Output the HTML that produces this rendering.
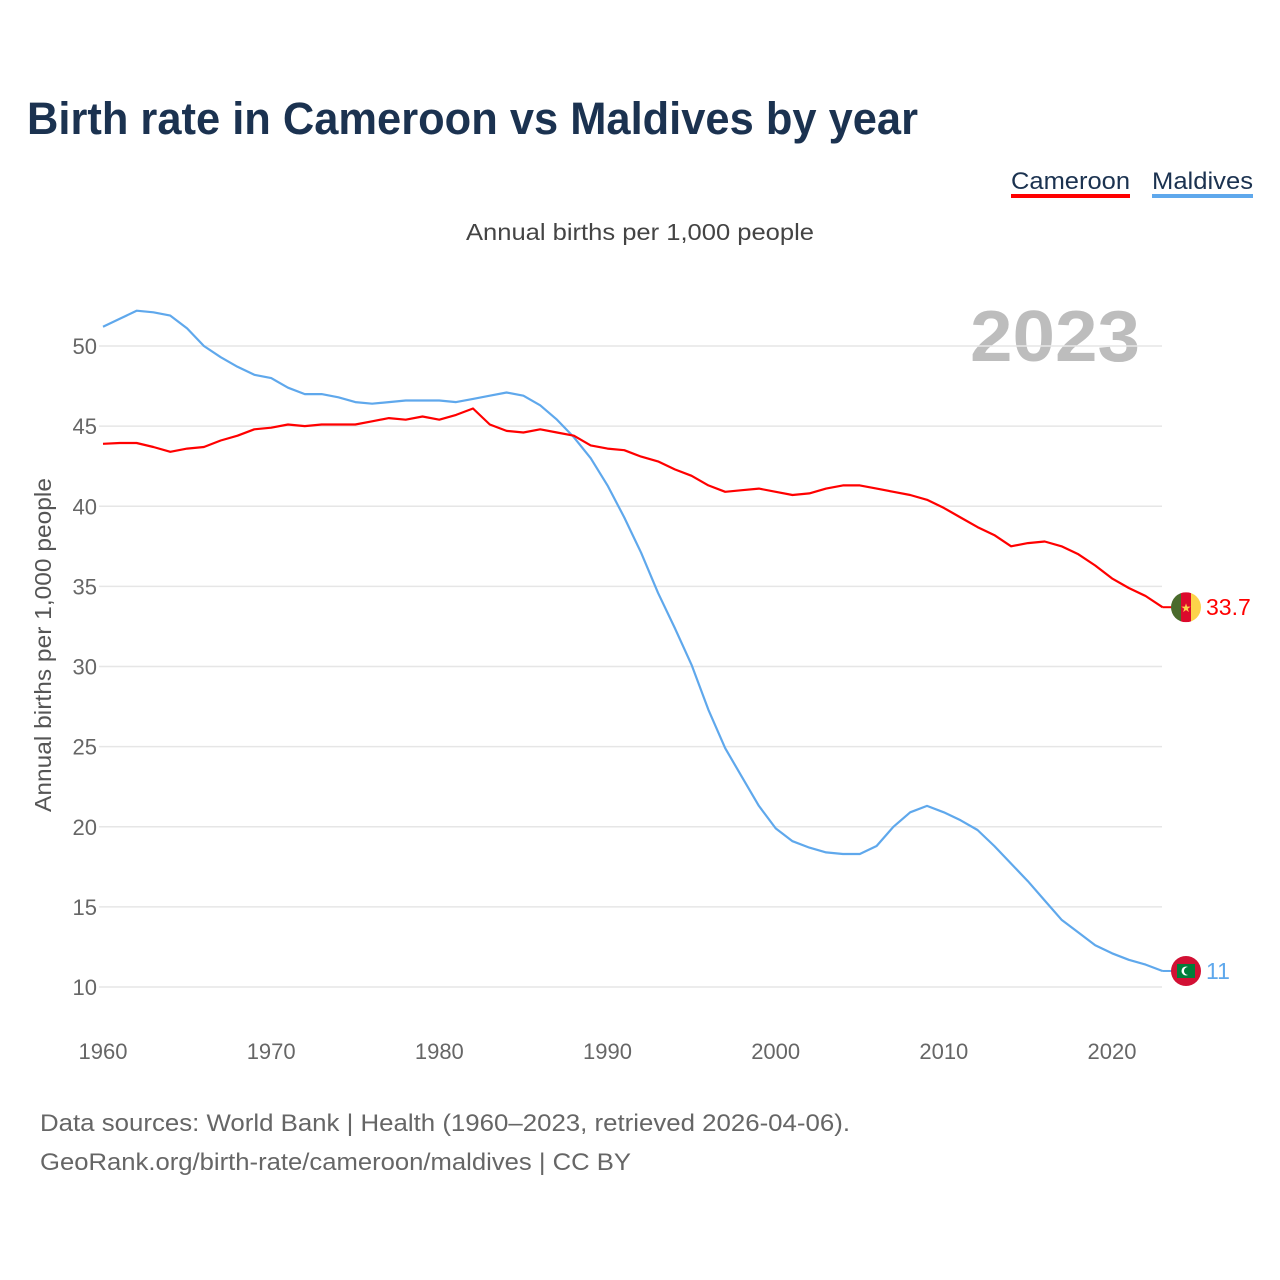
<!DOCTYPE html>
<html><head><meta charset="utf-8">
<style>
body{margin:0;background:#fff;font-family:"Liberation Sans",sans-serif;}
#wrap{position:relative;width:1280px;height:1280px;overflow:hidden;}
</style></head>
<body>
<div id="wrap">
<svg id="chart" width="1280" height="1280" xmlns="http://www.w3.org/2000/svg">
<text x="27" y="134" font-size="45" font-weight="bold" fill="#1b3250" textLength="891" lengthAdjust="spacingAndGlyphs">Birth rate in Cameroon vs Maldives by year</text>
<g>
<text x="1011" y="189" font-size="24" fill="#1b3250" textLength="119" lengthAdjust="spacingAndGlyphs">Cameroon</text>
<rect x="1011" y="194" width="119" height="4" fill="#ff0000"/>
</g>
<g>
<text x="1152" y="189" font-size="24" fill="#1b3250" textLength="101" lengthAdjust="spacingAndGlyphs">Maldives</text>
<rect x="1152" y="194" width="101" height="4" fill="#5fa8ec"/>
</g>
<text x="466" y="240" font-size="23" fill="#444" textLength="348" lengthAdjust="spacingAndGlyphs">Annual births per 1,000 people</text>
<text x="970" y="361" font-size="72" font-weight="bold" fill="#bdbdbd" textLength="170" lengthAdjust="spacingAndGlyphs">2023</text>
<text transform="translate(51,645) rotate(-90)" font-size="23" fill="#555" text-anchor="middle" textLength="334" lengthAdjust="spacingAndGlyphs">Annual births per 1,000 people</text>
<g id="grid"></g><g id="ticks"></g><g id="lines"></g><g id="ends"></g>
<text x="40" y="1131" font-size="24" fill="#666" textLength="810" lengthAdjust="spacingAndGlyphs">Data sources: World Bank | Health (1960–2023, retrieved 2026-04-06).</text>
<text x="40" y="1170" font-size="24" fill="#666" textLength="591" lengthAdjust="spacingAndGlyphs">GeoRank.org/birth-rate/cameroon/maldives | CC BY</text>
</svg>
</div>
<script>
const years = [];
for (let y = 1960; y <= 2023; y++) years.push(y);
const cameroon = [43.9,43.95,43.95,43.7,43.4,43.6,43.7,44.1,44.4,44.8,44.9,45.1,45.0,45.1,45.1,45.1,45.3,45.5,45.4,45.6,45.4,45.7,46.1,45.1,44.7,44.6,44.8,44.6,44.4,43.8,43.6,43.5,43.1,42.8,42.3,41.9,41.3,40.9,41.0,41.1,40.9,40.7,40.8,41.1,41.3,41.3,41.1,40.9,40.7,40.4,39.9,39.3,38.7,38.2,37.5,37.7,37.8,37.5,37.0,36.3,35.5,34.9,34.4,33.7];
const maldives = [51.2,51.7,52.2,52.1,51.9,51.1,50.0,49.3,48.7,48.2,48.0,47.4,47.0,47.0,46.8,46.5,46.4,46.5,46.6,46.6,46.6,46.5,46.7,46.9,47.1,46.9,46.3,45.4,44.3,43.0,41.3,39.3,37.1,34.6,32.4,30.1,27.3,24.9,23.1,21.3,19.9,19.1,18.7,18.4,18.3,18.3,18.8,20.0,20.9,21.3,20.9,20.4,19.8,18.8,17.7,16.6,15.4,14.2,13.4,12.6,12.1,11.7,11.4,11.0];
const yTicks = [10,15,20,25,30,35,40,45,50];
const xTicks = [1960,1970,1980,1990,2000,2010,2020];
const endLabels = ["33.7","11"];

const NS = "http://www.w3.org/2000/svg";
const xs = y => 103 + (y - 1960) * (1112 - 103) / 60;
const ys = v => 346 + (50 - v) * (987 - 346) / 40;
function mk(tag, attrs, parent){const e=document.createElementNS(NS,tag);for(const k in attrs)e.setAttribute(k,attrs[k]);document.getElementById(parent).appendChild(e);return e;}

yTicks.forEach(t=>{
  const l=mk('line',{x1:99,x2:1162,y1:ys(t),y2:ys(t),stroke:'#e6e6e6','stroke-width':1.5},'grid');
  
  
  const tx=mk('text',{x:97,y:ys(t)+8,'font-size':22,fill:'#666','text-anchor':'end'},'ticks');
  tx.textContent=t;
  
  
});
xTicks.forEach(t=>{
  const tx=mk('text',{x:xs(t),y:1059,'font-size':22,fill:'#666','text-anchor':'middle'},'ticks');
  tx.textContent=t;
  
  
});
function line(data,color,name){
  const d=data.map((v,i)=>(i?'L':'M')+xs(years[i]).toFixed(1)+','+ys(v).toFixed(1)).join(' ');
  const p=mk('path',{d:d,fill:'none',stroke:color,'stroke-width':2.2,'stroke-linejoin':'round'},'lines');
  
  
}
line(maldives,'#5fa8ec','line-maldives');
line(cameroon,'#ff0000','line-cameroon');

const lx = xs(2023);
const cy1 = ys(cameroon[cameroon.length-1]), cy2 = ys(maldives[maldives.length-1]);
mk('line',{x1:lx,x2:1172,y1:cy1,y2:cy1,stroke:'#ff0000','stroke-width':2},'ends');
mk('line',{x1:lx,x2:1172,y1:cy2,y2:cy2,stroke:'#5fa8ec','stroke-width':2},'ends');
const defs=mk('defs',{},'ends');
const cp=document.createElementNS(NS,'clipPath');cp.setAttribute('id','c1');defs.appendChild(cp);
const cc=document.createElementNS(NS,'circle');cc.setAttribute('cx',1186);cc.setAttribute('cy',cy1);cc.setAttribute('r',15);cp.appendChild(cc);
const g1=mk('g',{'clip-path':'url(#c1)'},'ends');


[['#4a6b2c',1171],['#dc0a2c',1181],['#fcd34a',1191]].forEach(([c,x])=>{const r=document.createElementNS(NS,'rect');r.setAttribute('x',x);r.setAttribute('y',cy1-15);r.setAttribute('width',10);r.setAttribute('height',30);r.setAttribute('fill',c);g1.appendChild(r);});
const st=document.createElementNS(NS,'text');st.setAttribute('x',1186);st.setAttribute('y',cy1+5);st.setAttribute('font-size',12);st.setAttribute('fill','#fcd34a');st.setAttribute('text-anchor','middle');st.textContent='★';g1.appendChild(st);
const g2=mk('g',{},'ends');


g2.innerHTML='<circle cx="1186" cy="'+cy2+'" r="15" fill="#d21034"/><rect x="1177" y="'+(cy2-7)+'" width="18" height="14" fill="#007e3a"/><circle cx="1186" cy="'+cy2+'" r="4.5" fill="#fff"/><circle cx="1188" cy="'+cy2+'" r="4" fill="#007e3a"/>';
const t1=mk('text',{x:1206,y:cy1+8,'font-size':23,fill:'#ff0000'},'ends');
t1.textContent=endLabels[0];


const t2=mk('text',{x:1206,y:cy2+8,'font-size':23,fill:'#5fa8ec'},'ends');
t2.textContent=endLabels[1];


</script>
</body></html>
